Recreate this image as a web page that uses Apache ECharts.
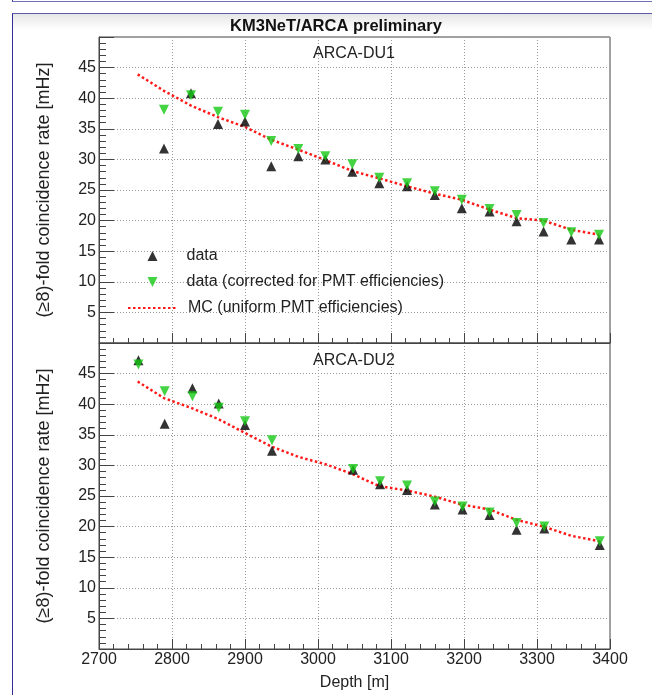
<!DOCTYPE html>
<html>
<head>
<meta charset="utf-8">
<script src="https://cdn.jsdelivr.net/npm/echarts@6/dist/echarts.min.js"></script>
<style>
    html, body { margin: 0; padding: 0; background: #fff; }
    #topline { position: absolute; left: 12px; top: 0; width: 640px; height: 1px; border-left: 1px solid #3a3a9a; border-bottom: 1px solid #6f6fb4; }
    #frame { position: absolute; left: 12px; top: 13px; width: 640px; height: 682px; border-left: 1px solid #2e2e96; border-top: 1px solid #5a5aa8; background: linear-gradient(#e6e6e6 0px, #ffffff 16px); }
    #main { position: absolute; left: 0; top: 0; width: 652px; height: 695px; }
</style>
</head>
<body>
<div id="topline"></div>
<div id="frame"></div>
<div id="main"></div>
<script>
    // depths [m] of the DOMs that have a measurement
    var depthDU1 = [2789, 2826, 2863, 2900, 2936, 2973, 3010, 3047, 3084, 3122, 3160, 3197, 3235, 3272, 3309, 3347, 3385];
    var dataDU1 = [31.8, 40.8, 35.8, 36.2, 28.9, 30.5, 30.0, 28.0, 26.1, 25.6, 24.2, 22.0, 21.5, 19.9, 18.2, 16.9, 16.9];
    var corrDU1 = [38.1, 40.5, 37.8, 37.3, 33.0, 31.7, 30.5, 29.2, 27.0, 26.1, 24.8, 23.4, 21.9, 20.9, 19.6, 18.1, 17.7];

    var depthDU2 = [2754, 2790, 2828, 2864, 2900, 2937, 3048, 3085, 3122, 3160, 3198, 3235, 3272, 3310, 3386];
    var dataDU2 = [47.2, 36.8, 42.6, 40.1, 36.6, 32.4, 29.3, 26.9, 26.0, 23.6, 22.8, 21.9, 19.5, 19.7, 17.0];
    var corrDU2 = [46.5, 42.1, 41.3, 39.4, 37.2, 34.1, 29.4, 27.4, 26.7, 24.1, 23.3, 22.3, 20.6, 20.0, 17.6];

    // MC, all 18 DOMs
    var depthMC = [2753, 2789, 2826, 2863, 2900, 2936, 2973, 3010, 3047, 3084, 3122, 3160, 3197, 3235, 3272, 3309, 3347, 3385];
    var mcDU1 = [43.9, 41.2, 38.8, 36.9, 35.3, 33.2, 31.6, 29.9, 28.1, 26.9, 25.6, 24.4, 23.4, 21.8, 20.4, 20.0, 18.5, 17.7];
    var mcDU2 = [43.7, 41.0, 39.4, 37.6, 35.3, 33.1, 31.4, 30.2, 28.6, 26.6, 25.9, 24.9, 23.6, 22.8, 21.1, 20.0, 18.5, 17.6];

    var depthRange = [2700, 3400];
    var rateRange = [0, 50];

    var FONT = 'Liberation Sans';
    var downTri = 'path://M0,0L10,0L5,10Z';
    var yTitle = '(\u22658)-fold coincidence rate [mHz]';

    function pairs(xs, ys) {
        return xs.map(function (x, i) { return [x, ys[i]]; });
    }

    function xAxisFor(idx, labels) {
        return {
            type: 'value', gridIndex: idx,
            min: depthRange[0], max: depthRange[1], interval: 100,
            name: labels ? 'Depth [m]' : '', nameLocation: 'middle', nameGap: 26,
            nameTextStyle: { fontSize: 16, color: '#222' },
            axisLine: { show: true, onZero: false, lineStyle: { color: '#444' } },
            axisTick: { show: true, inside: true, length: 10, lineStyle: { color: '#444' } },
            minorTick: { show: true, splitNumber: 5, length: 5, lineStyle: { color: '#444' } },
            axisLabel: { show: labels, fontSize: 16, color: '#222', margin: 3,
                         formatter: function (v) { return String(v); } },
            splitLine: { show: true, lineStyle: { color: '#9a9a9a', type: [1, 2], width: 1 } }
        };
    }

    function yAxisFor(idx) {
        return {
            type: 'value', gridIndex: idx,
            min: rateRange[0], max: rateRange[1], interval: 5,
            name: yTitle, nameLocation: 'middle', nameGap: 46,
            nameTextStyle: { fontSize: 18, color: '#222' },
            axisLine: { show: true, onZero: false, lineStyle: { color: '#444' } },
            axisTick: { show: true, inside: true, length: 15, lineStyle: { color: '#444' } },
            minorTick: { show: true, splitNumber: 5, length: 7, lineStyle: { color: '#444' } },
            axisLabel: { fontSize: 16, color: '#222', margin: 3, showMinLabel: false, showMaxLabel: false },
            splitLine: { show: true, lineStyle: { color: '#9a9a9a', type: [1, 2], width: 1 } }
        };
    }

    function mcSeries(idx, vals) {
        return {
            name: 'MC (uniform PMT efficiencies)', type: 'line', xAxisIndex: idx, yAxisIndex: idx,
            data: pairs(depthMC, vals),
            symbol: 'none',
            itemStyle: { color: '#ff1a1a' },
            lineStyle: { color: '#ff1a1a', width: 2.5, type: [2.5, 2.5] },
            z: 2, silent: true
        };
    }

    function dataSeries(idx, xs, vals) {
        return {
            name: 'data', type: 'scatter', xAxisIndex: idx, yAxisIndex: idx,
            data: pairs(xs, vals), symbol: 'triangle', symbolSize: 10,
            itemStyle: { color: '#000' }, z: 3
        };
    }

    function corrSeries(idx, xs, vals) {
        return {
            name: 'data (corrected for PMT efficiencies)', type: 'scatter', xAxisIndex: idx, yAxisIndex: idx,
            data: pairs(xs, vals), symbol: downTri, symbolSize: 10,
            itemStyle: { color: '#14c814' }, z: 4
        };
    }

    var chart = echarts.init(document.getElementById('main'));
    chart.setOption({
        animation: false,
        backgroundColor: 'transparent',
        textStyle: { fontFamily: FONT },
        title: [
            { text: 'KM3NeT/ARCA preliminary', left: 336, top: 18, textAlign: 'center', padding: 0,
              textStyle: { fontSize: 16.5, fontWeight: 'bold', color: '#111' } },
            { text: 'ARCA-DU1', left: 354, top: 46, textAlign: 'center', padding: 0,
              textStyle: { fontSize: 16, fontWeight: 'normal', color: '#222' } },
            { text: 'ARCA-DU2', left: 354, top: 353, textAlign: 'center', padding: 0,
              textStyle: { fontSize: 16, fontWeight: 'normal', color: '#222' } }
        ],
        legend: [
            { data: ['data', 'data (corrected for PMT efficiencies)'], orient: 'vertical',
              left: 147.5, top: 248, padding: 0, itemWidth: 10, itemHeight: 10, itemGap: 10,
              selectedMode: false,
              textStyle: { fontSize: 16, color: '#222', lineHeight: 16, padding: [0, 0, 0, 24] } },
            { data: ['MC (uniform PMT efficiencies)'], orient: 'vertical',
              left: 127, top: 300, padding: 0, itemWidth: 50, itemHeight: 10,
              selectedMode: false,
              itemStyle: { opacity: 0 },
              textStyle: { fontSize: 16, color: '#222', lineHeight: 16, padding: [0, 0, 0, 5] } }
        ],
        grid: [
            { left: 99, top: 37, width: 511, height: 306, show: true, borderColor: '#444', borderWidth: 1 },
            { left: 99, top: 343, width: 511, height: 306, show: true, borderColor: '#444', borderWidth: 1 }
        ],
        xAxis: [xAxisFor(0, false), xAxisFor(1, true)],
        yAxis: [yAxisFor(0), yAxisFor(1)],
        series: [
            mcSeries(0, mcDU1),
            dataSeries(0, depthDU1, dataDU1),
            corrSeries(0, depthDU1, corrDU1),
            mcSeries(1, mcDU2),
            dataSeries(1, depthDU2, dataDU2),
            corrSeries(1, depthDU2, corrDU2)
        ]
    });
</script>
</body>
</html>
